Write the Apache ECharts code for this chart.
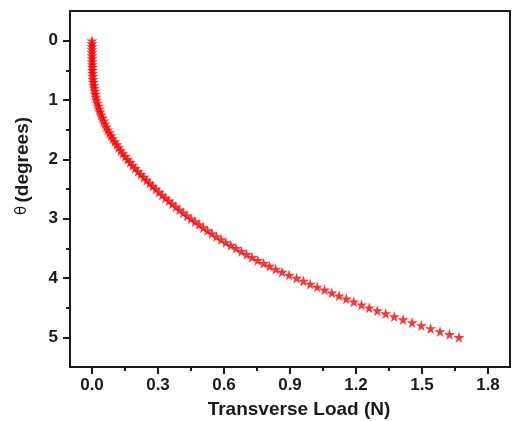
<!DOCTYPE html>
<html>
<head>
<meta charset="utf-8">
<script src="https://cdn.jsdelivr.net/npm/echarts@6/dist/echarts.min.js"></script>
<style>
  html, body { margin: 0; padding: 0; background: #fff; }
  #chart { width: 513px; height: 421px; }
</style>
</head>
<body>
<div id="chart"></div>
<script>
// theta (degrees), one star every 0.05 deg
const thetaDeg = [
  0.00, 0.05, 0.10, 0.15, 0.20, 0.25, 0.30, 0.35, 0.40, 0.45,
  0.50, 0.55, 0.60, 0.65, 0.70, 0.75, 0.80, 0.85, 0.90, 0.95,
  1.00, 1.05, 1.10, 1.15, 1.20, 1.25, 1.30, 1.35, 1.40, 1.45,
  1.50, 1.55, 1.60, 1.65, 1.70, 1.75, 1.80, 1.85, 1.90, 1.95,
  2.00, 2.05, 2.10, 2.15, 2.20, 2.25, 2.30, 2.35, 2.40, 2.45,
  2.50, 2.55, 2.60, 2.65, 2.70, 2.75, 2.80, 2.85, 2.90, 2.95,
  3.00, 3.05, 3.10, 3.15, 3.20, 3.25, 3.30, 3.35, 3.40, 3.45,
  3.50, 3.55, 3.60, 3.65, 3.70, 3.75, 3.80, 3.85, 3.90, 3.95,
  4.00, 4.05, 4.10, 4.15, 4.20, 4.25, 4.30, 4.35, 4.40, 4.45,
  4.50, 4.55, 4.60, 4.65, 4.70, 4.75, 4.80, 4.85, 4.90, 4.95,
  5.00
];

// transverse load (N) for each star
const loadN = [
  0.0000, 0.0000, 0.0000, 0.0001, 0.0002, 0.0003, 0.0005, 0.0008, 0.0011, 0.0015,
  0.0020, 0.0029, 0.0039, 0.0051, 0.0065, 0.0080, 0.0103, 0.0128, 0.0154, 0.0182,
  0.0210, 0.0248, 0.0288, 0.0328, 0.0372, 0.0420, 0.0474, 0.0530, 0.0588, 0.0652,
  0.0720, 0.0792, 0.0867, 0.0946, 0.1030, 0.1120, 0.1210, 0.1307, 0.1406, 0.1510,
  0.1620, 0.1733, 0.1848, 0.1966, 0.2090, 0.2220, 0.2351, 0.2484, 0.2620, 0.2758,
  0.2900, 0.3045, 0.3192, 0.3342, 0.3494, 0.3650, 0.3813, 0.3979, 0.4148, 0.4322,
  0.4500, 0.4683, 0.4869, 0.5058, 0.5252, 0.5450, 0.5657, 0.5868, 0.6084, 0.6310,
  0.6550, 0.6788, 0.7030, 0.7280, 0.7536, 0.7800, 0.8070, 0.8350, 0.8640, 0.8960,
  0.9300, 0.9610, 0.9920, 1.0240, 1.0570, 1.0900, 1.1230, 1.1560, 1.1900, 1.2250,
  1.2600, 1.2970, 1.3350, 1.3740, 1.4140, 1.4550, 1.4970, 1.5390, 1.5820, 1.6250,
  1.6680
];

const xMajorTicks = [0, 0.3, 0.6, 0.9, 1.2, 1.5, 1.8];
const xMinorTicks = [0.15, 0.45, 0.75, 1.05, 1.35, 1.65];
const yMajorTicks = [0, 1, 2, 3, 4, 5];
const yMinorTicks = [0.5, 1.5, 2.5, 3.5, 4.5];

const ink = "#1a1a1a";
const starPath = "path://M50,0 L61,35 L98,35 L68,57 L79,91 L50,70 L21,91 L32,57 L2,35 L39,35 Z";

const chart = echarts.init(document.getElementById("chart"));
const points = loadN.map((x, i) => [x, thetaDeg[i]]);

// tick-only helper axes laid over the main ones
function tickAxis(min, max, inverse, values, len) {
  return {
    type: "value",
    min,
    max,
    inverse,
    axisLine: { show: false, onZero: false },
    axisTick: {
      show: true,
      inside: false,
      customValues: values,
      length: len,
      lineStyle: { color: ink, width: 2 },
    },
    axisLabel: { show: false },
    splitLine: { show: false },
  };
}

const option = {
  backgroundColor: "#ffffff",
  animation: false,
  grid: {
    left: 70,
    right: 3,
    top: 11,
    bottom: 54,
    outerBoundsMode: "none",
    containLabel: false,
    show: true,
    borderColor: ink,
    borderWidth: 2,
  },
  xAxis: [
    {
      type: "value",
      min: -0.1,
      max: 1.9,
      position: "bottom",
      name: "Transverse Load (N)",
      nameLocation: "middle",
      nameGap: 33,
      nameTextStyle: {
        color: ink,
        fontFamily: "Liberation Sans, Arial, sans-serif",
        fontWeight: "bold",
        fontSize: 19,
        padding: [0, 0, 0, 18],
      },
      axisLine: { show: true, onZero: false, lineStyle: { color: ink, width: 2 } },
      axisTick: { show: false },
      axisLabel: {
        customValues: xMajorTicks,
        margin: 10,
        color: ink,
        fontFamily: "Liberation Sans, Arial, sans-serif",
        fontWeight: "bold",
        fontSize: 17,
        formatter: (v) => Number(v).toFixed(1),
      },
      splitLine: { show: false },
    },
    Object.assign(tickAxis(-0.1, 1.9, false, xMinorTicks, 4), { position: "bottom" }),
    Object.assign(tickAxis(-0.1, 1.9, false, xMajorTicks, 7), { position: "bottom" }),
  ],
  yAxis: [
    {
      type: "value",
      min: -0.5,
      max: 5.5,
      inverse: true,
      position: "left",
      name: "{t|θ} {b|(degrees)}",
      nameLocation: "middle",
      nameGap: 38,
      nameRotate: 90,
      nameTextStyle: {
        padding: [0, 0, 0, 46],
        rich: {
          t: { color: ink, fontFamily: "DejaVu Sans, sans-serif", fontSize: 15 },
          b: {
            color: ink,
            fontFamily: "Liberation Sans, Arial, sans-serif",
            fontWeight: "bold",
            fontSize: 19,
          },
        },
      },
      axisLine: { show: true, onZero: false, lineStyle: { color: ink, width: 2 } },
      axisTick: { show: false },
      axisLabel: {
        customValues: yMajorTicks,
        margin: 12,
        color: ink,
        fontFamily: "Liberation Sans, Arial, sans-serif",
        fontWeight: "bold",
        fontSize: 17,
      },
      splitLine: { show: false },
    },
    Object.assign(tickAxis(-0.5, 5.5, true, yMinorTicks, 4), { position: "left" }),
    Object.assign(tickAxis(-0.5, 5.5, true, yMajorTicks, 7), { position: "left" }),
  ],
  series: [
    {
      type: "scatter",
      xAxisIndex: 0,
      yAxisIndex: 0,
      data: points,
      symbol: starPath,
      symbolSize: 11,
      itemStyle: { color: "#ff0000" },
    },
  ],
};

chart.setOption(option);
</script>
</body>
</html>
